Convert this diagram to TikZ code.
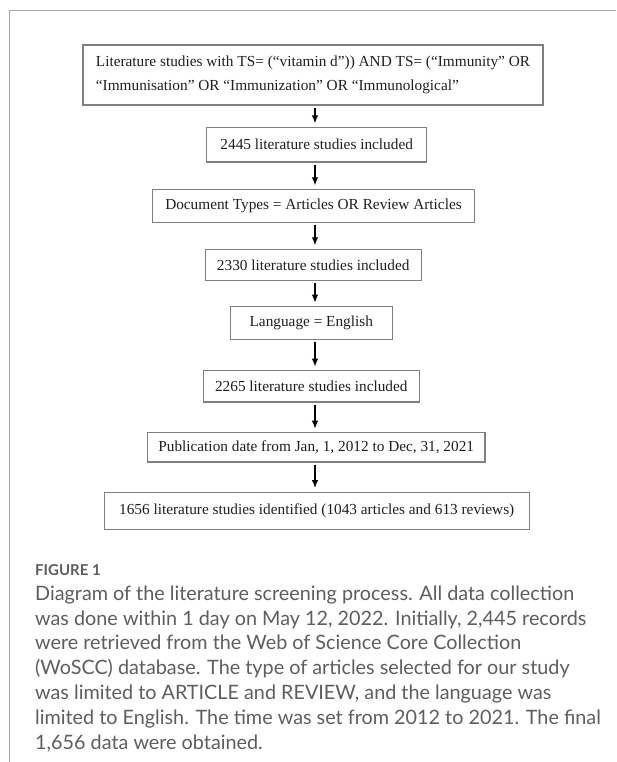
\documentclass[tikz,border=0pt]{standalone}
\usepackage{fontspec}
\setmainfont{Liberation Serif}
\newfontfamily\capfont{Lato}
\usetikzlibrary{arrows.meta}
\usetikzlibrary{positioning}

\definecolor{framegray}{HTML}{A8A8A8}
\definecolor{boxgray}{HTML}{808080}
\definecolor{capgray}{HTML}{5E5E5E}

\begin{document}
\begin{tikzpicture}[x=1pt,y=-1pt,
  stepbox/.style={draw=boxgray,line width=1.1pt,fill=white,inner sep=0pt,
    font=\fontsize{15.3}{24}\selectfont,text=black!88},
  flow/.style={-{Latex[length=8pt,width=6.5pt]},line width=1.2pt,
    shorten <=2pt,shorten >=3.5pt},
  captext/.style={inner sep=0pt,align=left,text=capgray,
    font=\capfont\fontsize{19.8}{24.8}\selectfont}]
\useasboundingbox[fill=white] (0,0) rectangle (616,762);
\draw[framegray,line width=1.1pt] (616,10.3) -- (9.3,10.3) -- (9.3,762);

% screening steps
\coordinate (spine) at (315,0);
\node[stepbox,minimum width=460pt,minimum height=60pt,align=left] (search) at (313,75)
  {Literature studies with TS= (“vitamin d”)) AND TS= (“Immunity” OR\\
   “Immunisation” OR “Immunization” OR “Immunological”};
\node[stepbox,minimum width=220pt,minimum height=34.7pt] (found) at (316.7,144.7) {2445 literature studies included};
\node[stepbox,minimum width=321.6pt,minimum height=32.7pt] (doctype) at (313.5,205.7) {Document Types = Articles OR Review Articles};
\node[stepbox,minimum width=215.7pt,minimum height=31.4pt] (kept1) at (313.2,265) {2330 literature studies included};
\node[stepbox,minimum width=162pt,minimum height=32.6pt] (lang) at (311.3,323) {Language = English};
\node[stepbox,minimum width=216pt,minimum height=31.3pt] (kept2) at (311.3,386.3) {2265 literature studies included};
\node[stepbox,minimum width=337.5pt,minimum height=29.3pt] (pubdate) at (316.2,447.3) {Publication date from Jan, 1, 2012 to Dec, 31, 2021};
\node[stepbox,minimum width=424.7pt,minimum height=37.3pt] (final) at (316.7,510.7) {1656 literature studies identified (1043 articles and 613 reviews)};

\foreach \a/\b in {search/found,found/doctype,doctype/kept1,kept1/lang,lang/kept2,kept2/pubdate,pubdate/final}
  \draw[flow] (\a.south -| spine) -- (\b.north -| spine);

% caption (base = last line)
\node[captext,anchor=base west,font=\capfont\bfseries\fontsize{15}{18}\selectfont] (figlabel) at (35,575) {FIGURE 1};
\node[captext,anchor=base west] (caption) at (35,749)
  {Diagram of the literature screening process. All data collection\\
   was done within 1 day on May 12, 2022. Initially, 2,445 records\\
   were retrieved from the Web of Science Core Collection\\
   (WoSCC) database. The type of articles selected for our study\\
   was limited to ARTICLE and REVIEW, and the language was\\
   limited to English. The time was set from 2012 to 2021. The final\\
   1,656 data were obtained.};
\end{tikzpicture}
\end{document}
